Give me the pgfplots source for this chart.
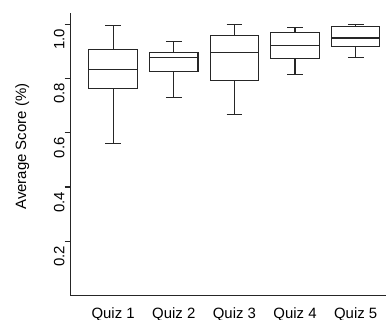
\documentclass[border=0pt]{standalone}
\usepackage{fontspec}
\setmainfont{Liberation Sans}
\usepackage{pgfplots}
\pgfplotsset{compat=1.18}
\usepgfplotslibrary{statistics}
\begin{document}
\begin{tikzpicture}[font=\fontsize{15}{18}\selectfont]
\begin{axis}[
  at={(70.7bp,24.3bp)}, anchor=south west,
  scale only axis,
  width=315.3bp, height=282.4bp,
  xmin=0.3, xmax=5.5, ymin=0, ymax=1.04,
  axis x line*=bottom, axis y line*=left,
  axis line style={-, line width=1.3bp, black!85},
  xtick={1,2,3,4,5},
  xticklabels={Quiz 1,Quiz 2,Quiz 3,Quiz 4,Quiz 5},
  x tick style={draw=none},
  ticklabel style={font=\fontsize{15}{18}\selectfont},
  label style={font=\fontsize{15}{18}\selectfont},
  xticklabel style={anchor=north, inner sep=0pt, yshift=-6bp},
  ytick={0.2,0.4,0.6,0.8,1.0},
  yticklabels={0.2,0.4,0.6,0.8,1.0},
  tick align=outside,
  major tick length=6bp,
  y tick style={line width=1.3bp, black!85},
  yticklabel style={rotate=90, anchor=south, inner sep=0pt, xshift=-15bp},
  /pgf/number format/assume math mode=true,
  ylabel={Average Score (\%)},
  every axis y label/.style={at={(axis description cs:-0.154,0.528)}, rotate=90, anchor=center},
  boxplot/draw direction=y,
  clip=false,
]
\addplot[black!85, line width=1.1bp, boxplot prepared={draw position=1, lower whisker=0.562, lower quartile=0.762, median=0.834, upper quartile=0.906, upper whisker=0.994, box extend=0.8, whisker extend=0.26}] coordinates {};
\addplot[black!85, line width=1.1bp, boxplot prepared={draw position=2, lower whisker=0.730, lower quartile=0.825, median=0.877, upper quartile=0.897, upper whisker=0.937, box extend=0.8, whisker extend=0.26}] coordinates {};
\addplot[black!85, line width=1.1bp, boxplot prepared={draw position=3, lower whisker=0.667, lower quartile=0.794, median=0.894, upper quartile=0.959, upper whisker=1.0, box extend=0.8, whisker extend=0.26}] coordinates {};
\addplot[black!85, line width=1.1bp, boxplot prepared={draw position=4, lower whisker=0.814, lower quartile=0.874, median=0.922, upper quartile=0.968, upper whisker=0.989, box extend=0.8, whisker extend=0.26}] coordinates {};
\addplot[black!85, line width=1.1bp, boxplot prepared={draw position=5, lower whisker=0.877, lower quartile=0.919, median=0.949, upper quartile=0.990, upper whisker=1.0, box extend=0.8, whisker extend=0.26}] coordinates {};
\end{axis}
\pgfresetboundingbox
\path[use as bounding box] (0,0) rectangle (386bp,320bp);
\end{tikzpicture}
\end{document}
